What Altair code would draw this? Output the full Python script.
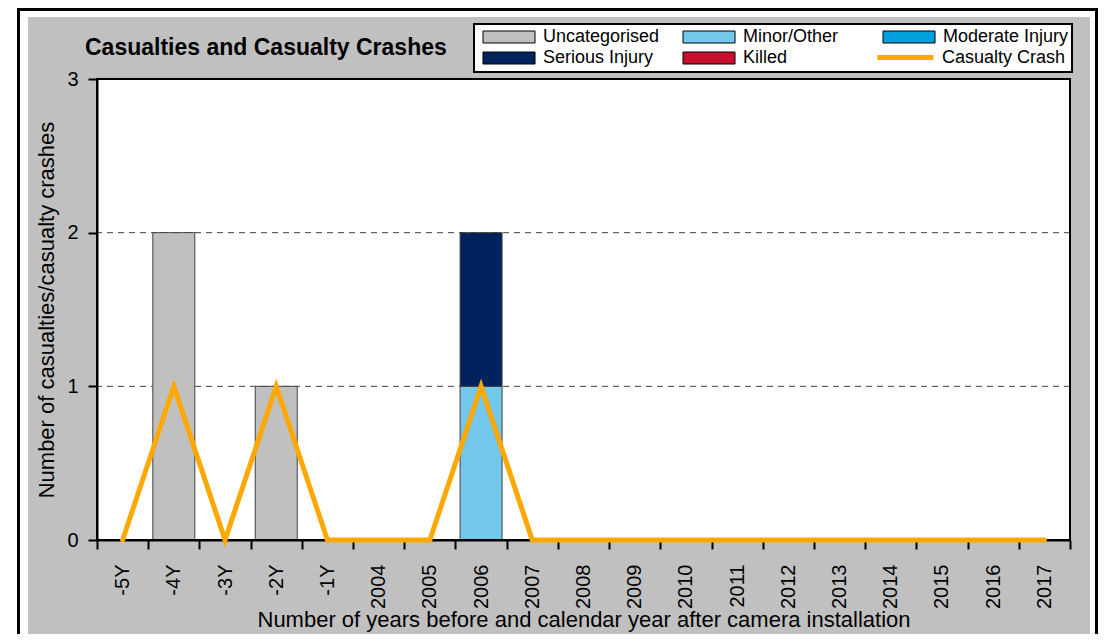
import altair as alt
import pandas as pd

FONT = "Liberation Sans"

categories = ["-5Y", "-4Y", "-3Y", "-2Y", "-1Y", "2004", "2005", "2006", "2007", "2008",
              "2009", "2010", "2011", "2012", "2013", "2014", "2015", "2016", "2017"]
uncategorised = [0, 2, 0, 1, 0, 0, 0, 0, 0, 0, 0, 0, 0, 0, 0, 0, 0, 0, 0]
minor_other = [0, 0, 0, 0, 0, 0, 0, 1, 0, 0, 0, 0, 0, 0, 0, 0, 0, 0, 0]
moderate_injury = [0, 0, 0, 0, 0, 0, 0, 0, 0, 0, 0, 0, 0, 0, 0, 0, 0, 0, 0]
serious_injury = [0, 0, 0, 0, 0, 0, 0, 1, 0, 0, 0, 0, 0, 0, 0, 0, 0, 0, 0]
killed = [0, 0, 0, 0, 0, 0, 0, 0, 0, 0, 0, 0, 0, 0, 0, 0, 0, 0, 0]
casualty_crash = [0, 1, 0, 1, 0, 0, 0, 1, 0, 0, 0, 0, 0, 0, 0, 0, 0, 0, 0]

series_names = ["Uncategorised", "Minor/Other", "Moderate Injury", "Serious Injury", "Killed"]
series_colors = ["#C0C0C0", "#72C7EA", "#00A0DD", "#00235E", "#C8102E"]
line_name = "Casualty Crash"
line_color = "#FFA800"
grid_values = [1, 2]
y_ticks = [0, 1, 2, 3]

series_values = [uncategorised, minor_other, moderate_injury, serious_injury, killed]
bar_rows = []
for si, (name, vals) in enumerate(zip(series_names, series_values)):
    for cat, v in zip(categories, vals):
        if v > 0:
            bar_rows.append({"cat": cat, "series": name, "value": v, "idx": si})
bar_df = pd.DataFrame(bar_rows)
line_df = pd.DataFrame({"cat": categories, "crash": casualty_crash, "series": line_name})
grid_df = pd.DataFrame({"g": grid_values})
dummy = pd.DataFrame({"k": [0]})

W, H = 973, 461

x_scale = alt.Scale(domain=categories, paddingInner=0, paddingOuter=0)
x_axis = alt.Axis(
    title="Number of years before and calendar year after camera installation",
    labelAngle=270, tickBand="extent", tickSize=9, tickColor="black", tickWidth=2,
    domainColor="black", domainWidth=2, labelFontSize=20, labelPadding=15,
    labelColor="black", titleColor="black", titleFontSize=22, titleFontWeight="normal",
    titlePadding=1, grid=False, labelFont=FONT, titleFont=FONT,
)
y_scale = alt.Scale(domain=[0, 3], nice=False)
y_axis = alt.Axis(
    title="Number of casualties/casualty crashes", values=y_ticks, tickSize=9,
    tickColor="black", tickWidth=2, domainColor="black", domainWidth=2,
    labelFontSize=20, labelPadding=10, labelColor="black", titleColor="black",
    titleFontSize=22, titleFontWeight="normal", titlePadding=8, grid=False,
    labelFont=FONT, titleFont=FONT,
)

rect_path = "M-1,-1H7.67V1H-1Z"
bar_legend = alt.Legend(
    title=None, orient="none", direction="horizontal", legendX=383, legendY=-51,
    columns=3, gridAlign="all", columnPadding=11, rowPadding=3, padding=0,
    labelFontSize=18, labelFont=FONT, labelColor="black", symbolSize=144,
    symbolType=rect_path, symbolStrokeColor="black", symbolStrokeWidth=1,
    symbolOpacity=1, labelOffset=45, labelLimit=0, zindex=2,
)
line_legend = alt.Legend(
    title=None, orient="none", legendX=778, legendY=-52, padding=0,
    labelFontSize=18, labelFont=FONT, labelColor="black", symbolSize=3136,
    symbolType="stroke", symbolStrokeWidth=5, symbolStrokeColor=line_color,
    labelOffset=6, labelLimit=0, zindex=2,
)

# white page strips and black frame around the grey chart area
def strip(x1, x2, y1, y2, color):
    return alt.Chart(dummy).mark_rect(color=color).encode(
        x=alt.value(x1), x2=alt.value(x2), y=alt.value(y1), y2=alt.value(y2))

band_left = strip(-89, -69, -71, 555, "white")
band_top = strip(-89, 1001, -71, -62, "white")
band_right = strip(993, 1001, -71, 555, "white")
line_left = strip(-80, -77, -71, 555, "black")
line_top = strip(-80, 1001, -71, -68, "black")
line_right = strip(998, 1001, -71, 555, "black")

legend_box = alt.Chart(dummy).mark_rect(color="white", stroke="black", strokeWidth=2).encode(
    x=alt.value(377), x2=alt.value(975), y=alt.value(-55), y2=alt.value(-7))

grid = alt.Chart(grid_df).mark_rule(color="#404040", strokeWidth=1, strokeDash=[6, 5]).encode(
    y=alt.Y("g:Q", scale=y_scale, axis=y_axis))

bars = alt.Chart(bar_df).mark_bar(width={"band": 0.82}, stroke="#404040", strokeWidth=1).encode(
    x=alt.X("cat:N", sort=categories, scale=x_scale, axis=x_axis),
    y=alt.Y("value:Q", stack="zero", scale=y_scale, axis=y_axis),
    fill=alt.Fill("series:N", scale=alt.Scale(domain=series_names, range=series_colors),
                  legend=bar_legend),
    order=alt.Order("idx:Q"),
)

plot_border = alt.Chart(dummy).mark_rect(fillOpacity=0, stroke="black", strokeWidth=2).encode(
    x=alt.value(0), x2=alt.value(W), y=alt.value(0), y2=alt.value(H))

line = alt.Chart(line_df).mark_line(strokeWidth=5, strokeCap="round", strokeJoin="miter").encode(
    x=alt.X("cat:N", sort=categories, scale=x_scale, axis=x_axis),
    y=alt.Y("crash:Q", scale=y_scale, axis=y_axis),
    stroke=alt.Stroke("series:N", scale=alt.Scale(domain=[line_name], range=[line_color]),
                      legend=line_legend),
)

title = alt.Chart(dummy).mark_text(
    text="Casualties and Casualty Crashes", align="left", baseline="alphabetic",
    fontSize=23, fontWeight="bold", font=FONT, color="black").encode(
    x=alt.value(-12), y=alt.value(-24))

chart = alt.layer(band_left, band_top, band_right, line_left, line_top, line_right,
                  legend_box, grid, bars, plot_border, line, title).properties(
    width=W, height=H, padding={"left": 0, "top": 0, "right": 0, "bottom": 0}
).resolve_scale(fill="independent", stroke="independent").configure(
    background="#C0C0C0").configure_view(strokeWidth=0, fill="white")

chart.save("out.html", embed_options={"renderer": "svg", "actions": False})
